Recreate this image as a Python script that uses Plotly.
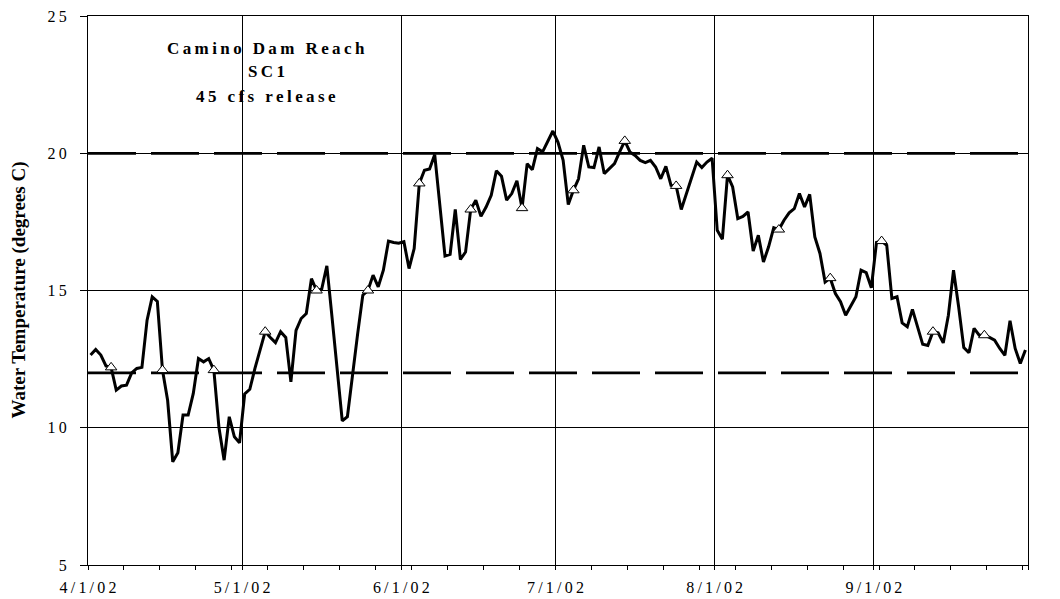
import pandas as pd
import plotly.graph_objects as go

# Daily mean water temperature (deg C), 4/1/02 through 9/30/02
temps = [
    12.65, 12.85, 12.65, 12.25, 12.2, 11.37, 11.52, 11.55, 12.0, 12.16,
    12.2, 13.92, 14.77, 14.6, 12.1, 11.0, 8.76, 9.09, 10.46, 10.46,
    11.25, 12.52, 12.4, 12.52, 12.1, 10.0, 8.82, 10.4, 9.67, 9.45,
    11.23, 11.4, 12.16, 12.85, 13.5, 13.29, 13.1, 13.5, 13.29, 11.67,
    13.55, 13.98, 14.16, 15.43, 15.0, 15.05, 15.9, 14.04, 12.22, 10.25,
    10.4, 11.98, 13.43, 14.83, 15.0, 15.56, 15.13, 15.74, 16.8, 16.75,
    16.72, 16.78, 15.8, 16.53, 18.9, 19.38, 19.43, 19.95, 18.05, 16.26,
    16.32, 17.95, 16.13, 16.4, 17.95, 18.29, 17.7, 18.04, 18.47, 19.36,
    19.16, 18.29, 18.53, 19.0, 18.0, 19.62, 19.4, 20.17, 20.05, 20.41,
    20.81, 20.4, 19.74, 18.13, 18.65, 19.07, 20.29, 19.5, 19.48, 20.23,
    19.26, 19.44, 19.62, 20.05, 20.45, 20.05, 19.92, 19.74, 19.66, 19.74,
    19.5, 19.07, 19.52, 18.83, 18.81, 17.95, 18.53, 19.07, 19.68, 19.48,
    19.68, 19.82, 17.19, 16.87, 19.2, 18.77, 17.62, 17.7, 17.86, 16.44,
    17.01, 16.04, 16.59, 17.29, 17.22, 17.56, 17.83, 17.98, 18.53, 18.04,
    18.5, 16.95, 16.35, 15.31, 15.45, 14.89, 14.59, 14.1, 14.46, 14.77,
    15.74, 15.65, 15.1, 16.75, 16.8, 16.65, 14.71, 14.77, 13.82, 13.68,
    14.31, 13.68, 13.04, 13.0, 13.5, 13.46, 13.09, 14.1, 15.74, 14.4,
    12.92, 12.73, 13.62, 13.37, 13.37, 13.29, 13.19, 12.89, 12.64, 13.9,
    12.89, 12.34, 12.83,
]
start_date = "2002-04-01 12:00"
# every tenth day carries a spot-check symbol, beginning 4/5
spot_first, spot_step = 4, 10

# temperature criteria lines
criteria = [20, 12]

x_ticks = ["2002-04-01", "2002-05-01", "2002-06-01", "2002-07-01",
           "2002-08-01", "2002-09-01", "2002-10-01"]
x_labels = ["4/1/02", "5/1/02", "6/1/02", "7/1/02", "8/1/02", "9/1/02", "10/1/02"]
y_ticks = [5, 10, 15, 20, 25]
y_labels = ["5", "10", "15", "20", "25"]

title_lines = ["Camino Dam Reach", "SC1", "45 cfs release"]
y_title = "Water Temperature (degrees C)"

THIN = "\u2009"
WORD_GAP = THIN + "\u00a0" + THIN


def spaced(s):
    # open letter spacing: thin space between letters, wider gap between words
    return WORD_GAP.join(THIN.join(word) for word in s.split(" "))


dates = pd.date_range(start_date, periods=len(temps), freq="D")
spot_dates = dates[spot_first::spot_step]
spot_vals = temps[spot_first::spot_step]

SERIF = "Liberation Serif, Times New Roman, serif"

fig = go.Figure()

for level in criteria:
    fig.add_trace(go.Scatter(
        x=[x_ticks[0], x_ticks[-1]], y=[level, level],
        mode="lines",
        line=dict(color="black", width=2.75, dash="48px,15px"),
        hoverinfo="skip",
    ))

fig.add_trace(go.Scatter(
    x=dates, y=temps, mode="lines",
    line=dict(color="black", width=3),
))

fig.add_trace(go.Scatter(
    x=spot_dates, y=spot_vals, mode="markers",
    marker=dict(symbol="triangle-up", size=10, color="white",
                line=dict(color="black", width=1)),
))

fig.update_layout(
    width=1060, height=599,
    margin=dict(l=88, r=32, t=16, b=34),
    paper_bgcolor="white", plot_bgcolor="white",
    showlegend=False,
    font=dict(family=SERIF, color="black", size=16),
)

fig.update_xaxes(
    type="date",
    range=[x_ticks[0], x_ticks[-1]],
    tickvals=x_ticks,
    ticktext=[spaced(t) for t in x_labels],
    tickfont=dict(family=SERIF, size=16, color="black"),
    showgrid=True, gridcolor="black", gridwidth=1,
    showline=True, linecolor="black", linewidth=1, mirror=True,
    ticks="outside", ticklen=4, tickcolor="black", tickwidth=1,
    ticklabelstandoff=4,
    minor=dict(ticks="outside", ticklen=4, tickcolor="black",
               dtick=7 * 86400000, tick0="2002-04-01", showgrid=False),
    zeroline=False, automargin=False,
)

fig.update_yaxes(
    range=[5, 25],
    tickvals=y_ticks,
    ticktext=[spaced(t) for t in y_labels],
    tickfont=dict(family=SERIF, size=16, color="black"),
    showgrid=True, gridcolor="black", gridwidth=1,
    showline=True, linecolor="black", linewidth=1, mirror=True,
    ticks="outside", ticklen=7, tickcolor="black", tickwidth=1,
    ticklabelstandoff=10,
    zeroline=False, automargin=False,
)

# chart title block inside the plot area
title_y_px = [48, 72, 96]
plot_top, plot_h = 16, 549
for text, ypx in zip(title_lines, title_y_px):
    fig.add_annotation(
        text="<b>" + spaced(text) + "</b>",
        xref="paper", yref="paper",
        x=(266 - 88) / 940, y=1 - (ypx - plot_top) / plot_h,
        xanchor="center", yanchor="middle",
        showarrow=False,
        font=dict(family=SERIF, size=17, color="black"),
    )

fig.add_annotation(
    text="<b>" + y_title + "</b>",
    xref="paper", yref="paper",
    x=(18 - 88) / 940, y=0.5,
    xanchor="center", yanchor="middle",
    textangle=-90, showarrow=False,
    font=dict(family=SERIF, size=19, color="black"),
)

fig.write_html("out.html")
